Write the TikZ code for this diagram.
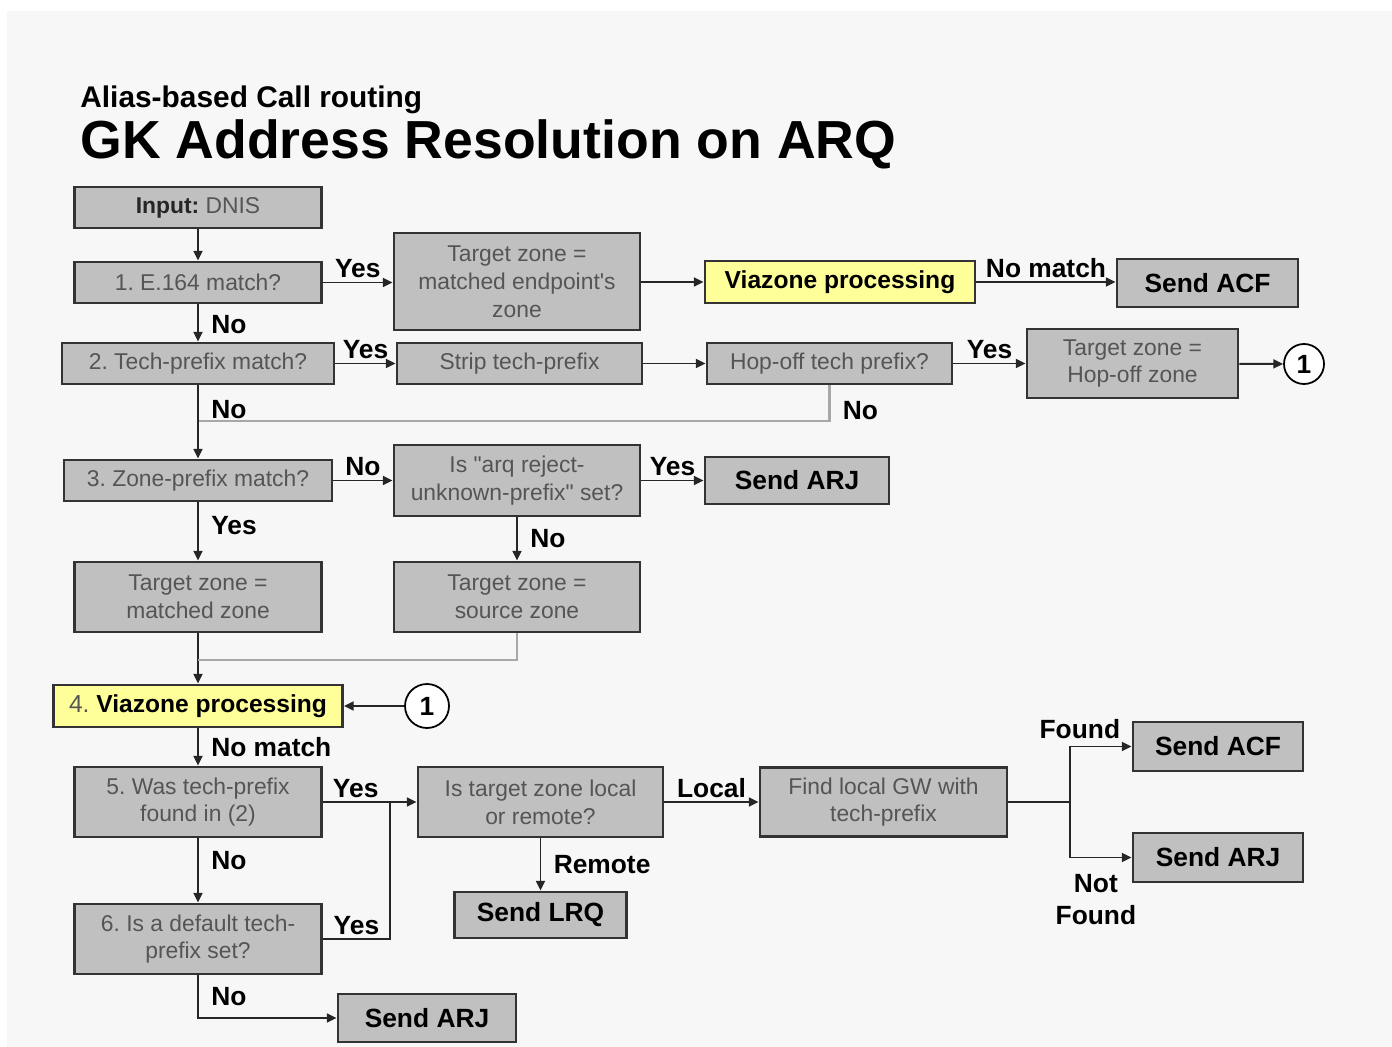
\documentclass[tikz,border=0pt]{standalone}
\usepackage{fontspec}
\setmainfont{Liberation Sans}[Ligatures=TeXOff]
\usetikzlibrary{positioning, arrows.meta, calc}
\definecolor{boxgray}{HTML}{C0C0C0}
\definecolor{boxtext}{HTML}{555555}
\definecolor{hotyellow}{HTML}{FFFF99}
\definecolor{pagegray}{HTML}{F7F7F7}
\definecolor{backline}{HTML}{A8A8A8}
\frenchspacing

\begin{document}
\begin{tikzpicture}[x=0.02cm, y=-0.02cm, >={Triangle[length=5.5pt,width=5pt]},
    box/.style={draw=black!80, line width=1.6pt, fill=boxgray, inner sep=2pt,
                align=center, text=boxtext, font=\fontsize{13}{15.8}\selectfont},
    hot/.style={box, fill=hotyellow, text=black, font=\fontsize{14}{16}\selectfont\bfseries},
    endbox/.style={box, text=black, font=\fontsize{15}{18}\selectfont\bfseries},
    link/.style={circle, draw, line width=1pt, fill=white, minimum size=0.8cm,
                 inner sep=0pt, font=\fontsize{15}{18}\selectfont\bfseries},
    tag/.style={font=\fontsize{15}{18}\selectfont\bfseries, inner sep=2pt},
    wire/.style={line width=1.1pt, draw=black!85},
    flow/.style={wire, ->},
    back/.style={line width=1.2pt, draw=backline}]
    % page
    \useasboundingbox (0,0) rectangle (1392,1047);
    \fill[white] (0,0) rectangle (1392,1047);
    \fill[pagegray] (7,11) rectangle (1392,1047);
    % titles
    \node[anchor=base west, inner sep=0pt, font=\fontsize{17}{20}\selectfont\bfseries] (subtitle) at (80,108) {Alias-based Call routing};
    \node[anchor=base west, inner sep=0pt, font=\fontsize{30.5}{36}\selectfont\bfseries] (title) at (80,159) {GK Address Resolution on ARQ};

    % first steps
    \node[box, minimum width=4.94cm, minimum height=0.82cm] (input) at (198,207.5) {{\bfseries\color{black!85}Input:} DNIS};
    \node[box, minimum width=4.94cm, minimum height=0.82cm] (e164) at (198,282.5) {1. E.164 match?};
    \node[box, minimum width=4.92cm, minimum height=1.94cm] (tzep) at (517,281.5) {Target zone =\\matched endpoint's\\zone};
    \node[hot, minimum width=5.40cm, minimum height=0.84cm] (via) at (840,282) {Viazone processing};
    \node[endbox, minimum width=3.62cm, minimum height=0.96cm] (acfa) at (1207.5,283) {Send ACF};
    \node[box, minimum width=5.44cm, minimum height=0.82cm] (tech) at (198,363.5) {2. Tech-prefix match?};
    \node[box, minimum width=4.90cm, minimum height=0.82cm] (strip) at (519.5,363.5) {Strip tech-prefix};
    \node[box, minimum width=4.90cm, minimum height=0.82cm] (hop) at (829.5,363.5) {Hop-off tech prefix?};
    \node[box, minimum width=4.22cm, minimum height=1.38cm] (tzhop) at (1132.5,363.5) {Target zone =\\Hop-off zone};
    \node[link] (onea) at (1304,364) {1};
    \node[box, minimum width=5.36cm, minimum height=0.82cm] (zone) at (198,480.5) {3. Zone-prefix match?};
    \node[box, minimum width=4.92cm, minimum height=1.42cm] (arq) at (517,480.5) {Is "arq reject-\\unknown-prefix" set?};
    \node[endbox, minimum width=3.68cm, minimum height=0.94cm] (arja) at (797,480.5) {Send ARJ};
    \node[box, minimum width=4.94cm, minimum height=1.40cm] (tzmz) at (198,597) {Target zone =\\matched zone};
    \node[box, minimum width=4.92cm, minimum height=1.40cm] (tzsz) at (517,597) {Target zone =\\source zone};

    % second half
    \node[hot, minimum width=5.78cm, minimum height=0.84cm] (viab) at (198,706) {{\mdseries\color{boxtext}4.} Viazone processing};
    \node[link, minimum size=0.88cm] (oneb) at (427,706) {1};
    \node[box, minimum width=4.94cm, minimum height=1.40cm] (found) at (198,802) {5. Was tech-prefix\\found in (2)};
    \node[box, minimum width=4.90cm, minimum height=1.40cm] (where) at (540.5,802) {Is target zone local\\or remote?};
    \node[box, minimum width=4.94cm, minimum height=1.38cm] (findgw) at (883.5,802) {Find local GW with\\tech-prefix};
    \node[endbox, minimum width=3.40cm, minimum height=0.98cm] (acfb) at (1218,746.5) {Send ACF};
    \node[endbox, minimum width=3.40cm, minimum height=0.98cm] (arjb) at (1218,857.5) {Send ARJ};
    \node[endbox, minimum width=3.44cm, minimum height=0.92cm] (lrq) at (540.5,915) {Send LRQ};
    \node[box, minimum width=4.94cm, minimum height=1.40cm] (deflt) at (198,939) {6. Is a default tech-\\prefix set?};
    \node[endbox, minimum width=3.56cm, minimum height=0.96cm] (arjc) at (427,1018) {Send ARJ};

    \coordinate (nojoin) at (198,421);
    \coordinate (zonejoin) at (198,660);
    \coordinate (yesjoin) at (390,802);
    \coordinate (split) at (1070,802);

    % connectors
    \draw[flow] (input) -- (e164);
    \draw[flow] (e164) -- node[tag, right=5pt, pos=0.55] {No} (tech);
    \draw[flow] (e164) -- node[tag, above] {Yes} (e164 -| tzep.west);
    \draw[flow] (tzep.east |- via) -- (via);
    \draw[flow] (via) -- node[tag, above] {No match} (via -| acfa.west);
    \draw[flow] (tech) -- node[tag, above] {Yes} (strip);
    \draw[flow] (strip) -- (hop);
    \draw[flow] (hop) -- node[tag, above] {Yes} (tzhop);
    \draw[flow] (tzhop) -- (onea);
    \draw[back] (hop.south) |- node[tag, right=5pt, pos=0.35] {No} (nojoin);
    \draw[flow] (tech) -- node[tag, right=5pt, pos=0.33] {No} (zone);
    \draw[flow] (zone) -- node[tag, above] {No} (zone -| arq.west);
    \draw[flow] (arq) -- node[tag, above] {Yes} (arja);
    \draw[flow] (arq) -- node[tag, right=5pt] {No} (tzsz);
    \draw[flow] (zone) -- node[tag, right=5pt, pos=0.4] {Yes} (tzmz);
    \draw[flow] (tzmz) -- (viab);
    \draw[back] (tzsz.south) |- (zonejoin);
    \draw[flow] (oneb) -- (viab);
    \draw[flow] (viab) -- node[tag, right=5pt] {No match} (found);
    \draw[flow] (found) -- node[tag, above, pos=0.35] {Yes} (where);
    \draw[wire] (deflt.east) -| node[tag, above, pos=0.25] {Yes} (yesjoin);
    \draw[flow] (found) -- node[tag, right=5pt, pos=0.35] {No} (deflt);
    \draw[flow] (deflt.south) |- node[tag, right=5pt, pos=0.25] {No} (arjc.west);
    \draw[flow] (where) -- node[tag, right=5pt] {Remote} (lrq);
    \draw[flow] (where) -- node[tag, above] {Local} (findgw);
    \draw[wire] (findgw) -- (split);
    \draw[flow] (split) |- node[tag, above=2pt, pos=0.58] {Found} (acfb.west);
    \draw[flow] (split) |- node[tag, below=7pt, pos=0.71, align=center] {Not\\Found} (arjb.west);
\end{tikzpicture}
\end{document}
